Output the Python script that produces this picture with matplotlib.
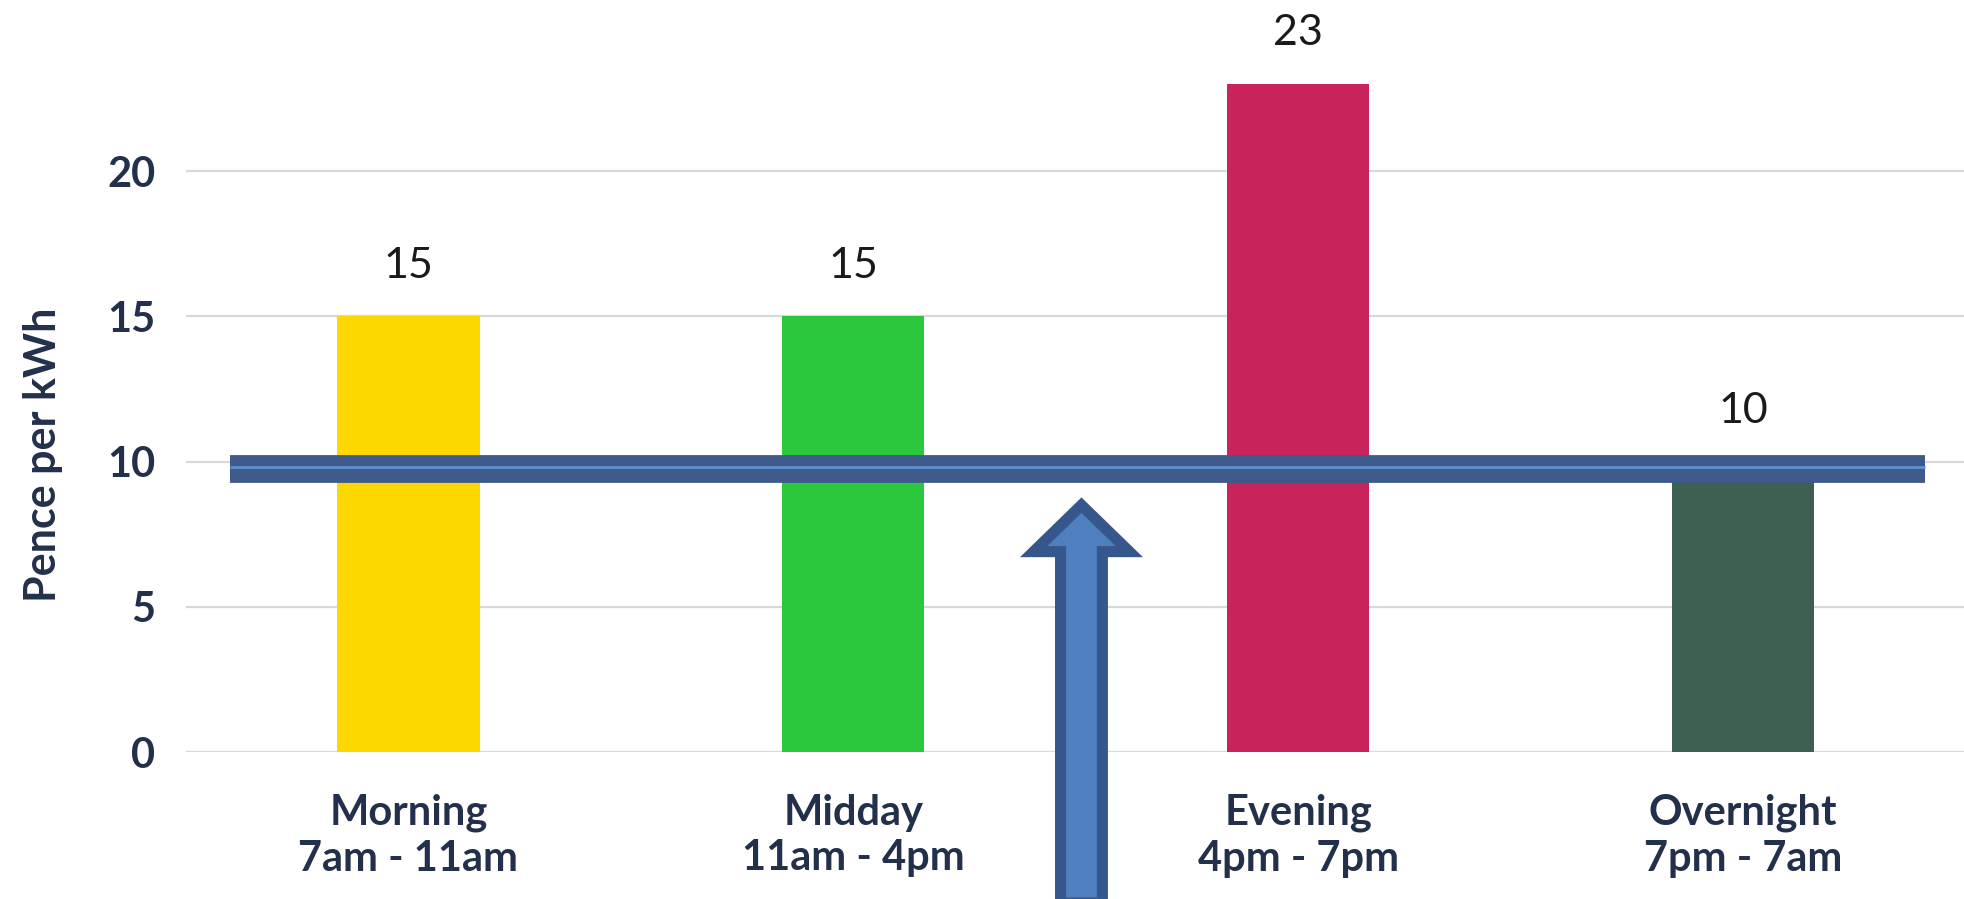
import matplotlib
matplotlib.use("Agg")
import matplotlib.pyplot as plt
from matplotlib.patches import FancyArrow

# tariff bands
periods = ['Morning\n7am - 11am', 'Midday\n11am - 4pm', 'Evening\n4pm - 7pm', 'Overnight\n7pm - 7am']
prices = [15, 15, 23, 10]
bar_colors = ['#FDD800', '#2BC83E', '#C8235A', '#3D6052']
yticks = [0, 5, 10, 15, 20]
cap_level = 9.75

plt.rcParams['font.family'] = ['Lato', 'DejaVu Sans']

fig = plt.figure(figsize=(19.64, 8.99), dpi=100)
ax = fig.add_axes([0.0947, 0.1635, 0.906, 0.8076])

x = range(len(periods))
bars = ax.bar(x, prices, width=0.32, color=bar_colors, zorder=2)

for xi, p in zip(x, prices):
    ax.annotate(str(p), (xi, p), xytext=(0, 28), textcoords='offset points',
                ha='center', va='baseline', fontsize=31, color='#1A1A1A',
                annotation_clip=False)

ax.set_xlim(-0.5, 3.5)
ax.set_ylim(0, 25)
ax.set_yticks(yticks)
ax.set_xticks(list(x))
ax.set_xticklabels(periods, fontsize=30, fontweight='bold', color='#22304C',
                   linespacing=1.25)
ax.tick_params(axis='x', length=0, pad=30)
ax.tick_params(axis='y', length=0, pad=22, labelsize=30, labelcolor='#22304C')
for lab in ax.get_yticklabels():
    lab.set_fontweight('bold')
ax.set_ylabel('Pence per kWh', fontsize=31, fontweight='bold', color='#22304C')
ax.yaxis.set_label_coords(-0.069, 0.41)

ax.grid(axis='y', color='#D9D9D9', lw=1.6, zorder=0)
ax.set_axisbelow(True)
for s in ax.spines.values():
    s.set_visible(False)

# price cap line
ax.hlines(cap_level, -0.4, 3.41, color='#3D5A8A', lw=20, zorder=4, capstyle='butt')
ax.hlines(cap_level + 0.05, -0.4, 3.41, color='#5E8FCF', lw=2, zorder=5, capstyle='butt')

# arrow pointing at the cap
arrow = FancyArrow(1.513, -5.2, 0, 13.7, width=0.094, head_width=0.215, head_length=1.6,
                   length_includes_head=True, facecolor='#4F7FBF', edgecolor='#35578C',
                   lw=8, joinstyle='miter', zorder=6, clip_on=False)
ax.add_patch(arrow)

fig.savefig('out.png', dpi=100)
